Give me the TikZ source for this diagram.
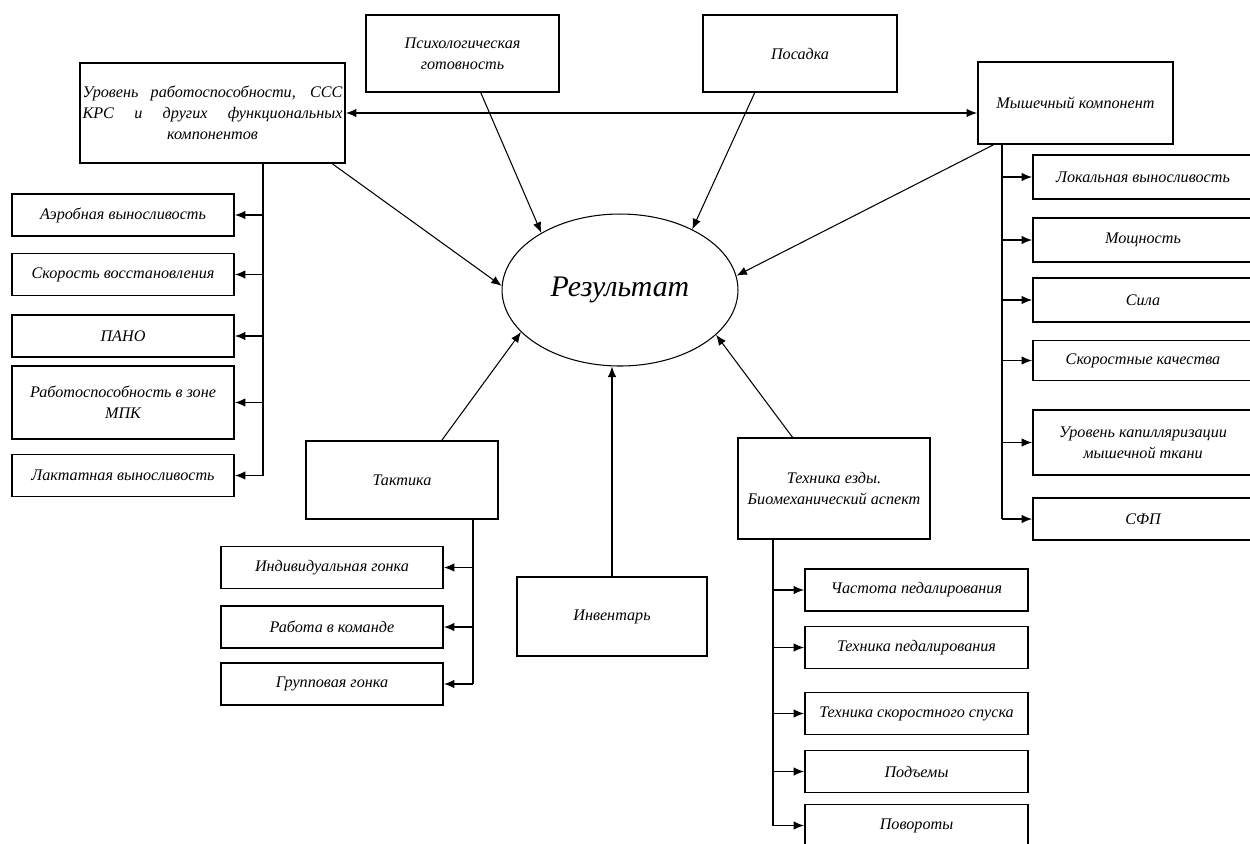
\documentclass[tikz,border=0pt]{standalone}
\usepackage{fontspec}
\setmainfont{Liberation Serif}
\usetikzlibrary{positioning, arrows.meta, shapes.geometric, calc}

\begin{document}
\begin{tikzpicture}[x=0.02cm, y=-0.02cm,
    box/.style={draw, line width=1.1pt, align=center, inner sep=1pt,
      font=\itshape\fontsize{9.2}{12}\selectfont},
    sub/.style={box, minimum height=0.84cm},
    conn/.style={line width=0.6pt},
    arr/.style={conn, -{Latex[length=2.1mm, width=1.7mm]}}]
    \useasboundingbox (0,0) rectangle (1250,843);
    \clip (0,0) rectangle (1250,843);
    %--- CENTRE ---
    \node[ellipse, draw, line width=0.6pt, inner sep=0pt, minimum width=4.72cm,
      minimum height=3.04cm, font=\itshape\fontsize{17}{20}\selectfont]
      (res) at (620,290) {Результат};
    %--- TOP ROW ---
    \node[box, minimum width=5.3cm, minimum height=2cm] (lev) at (212.5,113)
      {\makebox[5.2cm][s]{Уровень работоспособности, ССС}\\
       \makebox[5.2cm][s]{КРС и других функциональных}\\ компонентов};
    \node[box, minimum width=3.86cm, minimum height=1.54cm] (psy) at (462.5,53.5)
      {Психологическая\\ готовность};
    \node[box, minimum width=3.88cm, minimum height=1.54cm] (pos) at (800,53.5) {Посадка};
    \node[box, minimum width=3.9cm, minimum height=1.64cm] (mus) at (1075.5,103)
      {Мышечный компонент};
    %--- LEFT COLUMN ---
    \node[sub, minimum width=4.44cm] (aer) at (123,215) {Аэробная выносливость};
    \node[sub, minimum width=4.44cm] (vos) at (123,274.5) {Скорость восстановления};
    \node[sub, minimum width=4.44cm] (pano) at (123,336) {ПАНО};
    \node[sub, minimum width=4.44cm, minimum height=1.46cm] (mpk) at (123,402.5)
      {Работоспособность в зоне\\ МПК};
    \node[sub, minimum width=4.44cm] (lak) at (123,475.5) {Лактатная выносливость};
    %--- RIGHT COLUMN ---
    \node[sub, minimum width=4.4cm, minimum height=0.88cm] (lok) at (1143,177)
      {Локальная выносливость};
    \node[sub, minimum width=4.4cm, minimum height=0.88cm] (mos) at (1143,240) {Мощность};
    \node[sub, minimum width=4.4cm, minimum height=0.88cm] (sil) at (1143,300) {Сила};
    \node[sub, minimum width=4.4cm, minimum height=0.8cm] (skor) at (1143,360.5)
      {Скоростные качества};
    \node[sub, minimum width=4.4cm, minimum height=1.3cm] (kap) at (1143,442.5)
      {Уровень капилляризации\\ мышечной ткани};
    \node[sub, minimum width=4.4cm] (sfp) at (1143,519) {СФП};
    %--- BOTTOM ROW ---
    \node[box, minimum width=3.84cm, minimum height=1.56cm] (tak) at (402,480) {Тактика};
    \node[box, minimum width=3.8cm, minimum height=1.58cm] (inv) at (612,616.5) {Инвентарь};
    \node[box, minimum width=3.84cm, minimum height=2.02cm] (teh) at (834,488.5)
      {Техника езды.\\ Биомеханический аспект};
    %--- TACTICS ---
    \node[sub, minimum width=4.44cm] (ind) at (332,567.5) {Индивидуальная гонка};
    \node[sub, minimum width=4.44cm] (kom) at (332,627) {Работа в команде};
    \node[sub, minimum width=4.44cm] (grp) at (332,684) {Групповая гонка};
    %--- TECHNIQUE ---
    \node[sub, minimum width=4.46cm] (chas) at (916.5,590) {Частота педалирования};
    \node[sub, minimum width=4.46cm] (tped) at (916.5,647.5) {Техника педалирования};
    \node[sub, minimum width=4.46cm] (tspu) at (916.5,713.5) {Техника скоростного спуска};
    \node[sub, minimum width=4.46cm] (pod) at (916.5,771.5) {Подъемы};
    \node[sub, minimum width=4.46cm] (pov) at (916.5,825.5) {Повороты};
    %--- ARROWS TO RESULT ---
    \draw[arr] (lev.-23) -- (res.178);
    \draw[arr] (psy.-65.6) -- (res.144);
    \draw[arr] (pos.-139.4) -- (res.40);
    \draw[arr] (mus.-153.6) -- (res.7);
    \draw[arr] (tak.45) -- (res.203);
    \draw[arr] (teh.129) -- (res.-25);
    \draw[arr] (inv.north) -- (inv.north |- res.south);
    \draw[conn, {Latex[length=2.1mm, width=1.7mm]}-{Latex[length=2.1mm, width=1.7mm]}]
      (lev.east) -- (lev.east -| mus.west);
    %--- BUSES ---
    \coordinate (levbus) at (263,163);
    \coordinate (musbus) at (1002,144);
    \coordinate (takbus) at (473,519);
    \coordinate (tehbus) at (773,539);
    \draw[conn] (levbus) -- (levbus |- lak.east);
    \foreach \n in {aer,vos,pano,mpk,lak}
      \draw[arr] (levbus |- \n.east) -- (\n.east);
    \draw[conn] (musbus) -- (musbus |- sfp.west);
    \foreach \n in {lok,mos,sil,skor,kap,sfp}
      \draw[arr] (musbus |- \n.west) -- (\n.west);
    \draw[conn] (takbus) -- (takbus |- grp.east);
    \foreach \n in {ind,kom,grp}
      \draw[arr] (takbus |- \n.east) -- (\n.east);
    \draw[conn] (tehbus) -- (tehbus |- pov.west);
    \foreach \n in {chas,tped,tspu,pod,pov}
      \draw[arr] (tehbus |- \n.west) -- (\n.west);
  \end{tikzpicture}
\end{document}
